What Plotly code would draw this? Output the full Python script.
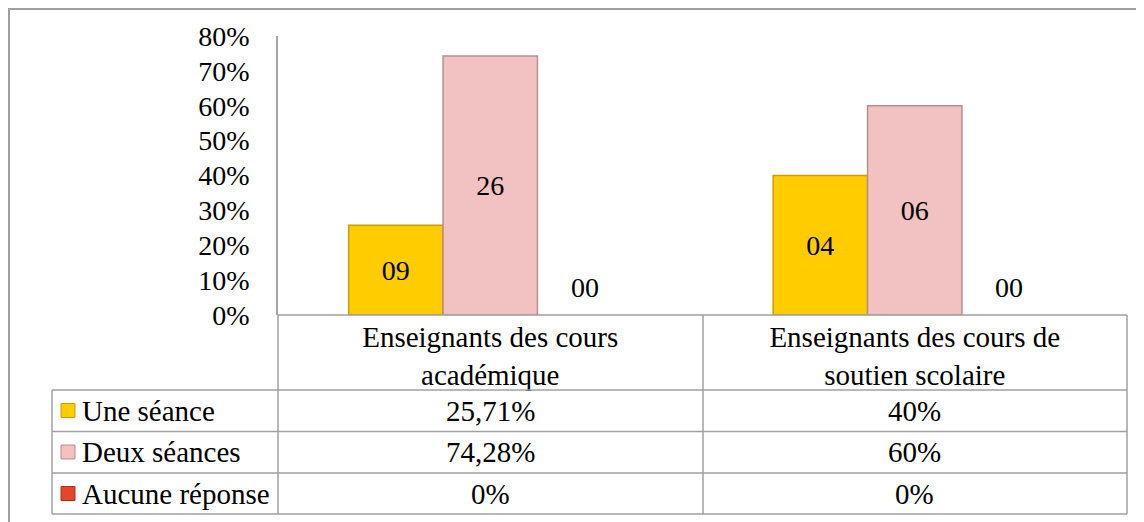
import plotly.graph_objects as go

categories = ["Enseignants des cours<br>académique", "Enseignants des cours de<br>soutien scolaire"]
series_names = ["Une séance", "Deux séances", "Aucune réponse"]
une_pct = [25.71, 40.0]
deux_pct = [74.28, 60.0]
aucune_pct = [0.0, 0.0]
une_n = ["09", "04"]
deux_n = ["26", "06"]
aucune_n = ["00", "00"]
tick_vals = [0, 10, 20, 30, 40, 50, 60, 70, 80]

# page body has an 8px margin; the figure is sized to fit the window
OFF = 8
W, H = 1144 - OFF, 522 - OFF
FONT = "Liberation Serif, Times New Roman, Times, serif"
FS = 28
FS_T = 29
colors = ["#FFCC00", "#F2C2C2", "#E2472C"]
edges = ["#C9A000", "#B88E8E", "#A83220"]

def px(x):
    return (x - OFF) / W

def py(y):
    return 1 - (y - OFF) / H

def fmt(v):
    if abs(v - round(v)) < 1e-9:
        return f"{int(round(v))}%"
    return f"{v:.2f}".replace(".", ",") + "%"

fig = go.Figure()
vals = [une_pct, deux_pct, aucune_pct]
labels = [une_n, deux_n, aucune_n]
annotations = []
BAR_PX = 94.3  # width of one bar in pixels (for offsetting labels of empty bars)
for i in range(3):
    is_zero = all(v == 0 for v in vals[i])
    fig.add_trace(go.Bar(
        x=categories, y=[v / 100 for v in vals[i]], name=series_names[i],
        marker=dict(color=colors[i], line=dict(color=edges[i], width=0 if is_zero else 1.5)),
        text=None if is_zero else labels[i],
        textposition="inside",
        insidetextanchor="middle",
        textangle=0,
        cliponaxis=False,
        textfont=dict(family=FONT, size=FS, color="black"),
        showlegend=False,
    ))
    if is_zero:
        for c in range(2):
            annotations.append(dict(xref="x", yref="y", x=categories[c], y=vals[i][c] / 100,
                                    text=labels[i][c], showarrow=False,
                                    xanchor="center", yanchor="bottom",
                                    xshift=(i - 1) * BAR_PX, yshift=10,
                                    font=dict(family=FONT, size=FS, color="black")))

x0, x1 = 278, 1127
y_top, y_base = 36, 315
fig.update_layout(
    width=W, height=H,
    margin=dict(l=0, r=0, t=0, b=0, autoexpand=False),
    paper_bgcolor="white", plot_bgcolor="white",
    barmode="group", bargap=0.333, bargroupgap=0,
    font=dict(family=FONT, size=FS, color="black"),
    uniformtext=dict(minsize=FS, mode="show"),
    xaxis=dict(domain=[px(x0), px(x1)], showticklabels=True, ticks="",
               showline=False, showgrid=False, zeroline=False, automargin=False,
               ticklabelstandoff=2,
               tickfont=dict(family=FONT, size=FS_T, color="black")),
    yaxis=dict(domain=[py(y_base), py(y_top)], range=[0, 0.8],
               tickvals=[v / 100 for v in tick_vals],
               ticktext=[f"{v}%" for v in tick_vals],
               showgrid=False, zeroline=False, automargin=False,
               showline=True, linecolor="#A6A6A6", linewidth=1.5,
               ticks="", ticklabelstandoff=21,
               tickfont=dict(family=FONT, size=FS, color="black")),
)

shapes = []
line = dict(color="#A0A0A0", width=1.5)
# outer chart border
shapes.append(dict(type="rect", xref="paper", yref="paper",
                   x0=px(9), x1=px(1170), y0=py(560), y1=py(9),
                   line=dict(color="#A0A0A0", width=2)))
# table horizontal lines
shapes.append(dict(type="line", xref="paper", yref="paper", x0=px(x0), x1=px(x1), y0=py(315), y1=py(315), line=line))
for yy in [390, 431.5, 473, 514]:
    shapes.append(dict(type="line", xref="paper", yref="paper", x0=px(52), x1=px(x1), y0=py(yy), y1=py(yy), line=line))
# vertical lines
for xx in [x0, 703, x1]:
    shapes.append(dict(type="line", xref="paper", yref="paper", x0=px(xx), x1=px(xx), y0=py(315), y1=py(514), line=line))
shapes.append(dict(type="line", xref="paper", yref="paper", x0=px(52), x1=px(52), y0=py(390), y1=py(514), line=line))

row_centers = [410.5, 452, 493.5]
for r, name in enumerate(series_names):
    yc = row_centers[r]
    shapes.append(dict(type="rect", xref="paper", yref="paper",
                       x0=px(61), x1=px(75), y0=py(yc + 7), y1=py(yc - 7),
                       fillcolor=colors[r], line=dict(color=edges[r], width=1)))
    annotations.append(dict(xref="paper", yref="paper", x=px(80), y=py(yc),
                            text=name, showarrow=False, xanchor="left", yanchor="middle",
                            font=dict(family=FONT, size=FS_T, color="black")))
    for c in range(2):
        annotations.append(dict(xref="x", yref="paper", x=categories[c], y=py(yc),
                                text=fmt(vals[r][c]), showarrow=False,
                                xanchor="center", yanchor="middle",
                                font=dict(family=FONT, size=FS_T, color="black")))

fig.update_layout(shapes=shapes, annotations=annotations)
fig.write_html("out.html")
